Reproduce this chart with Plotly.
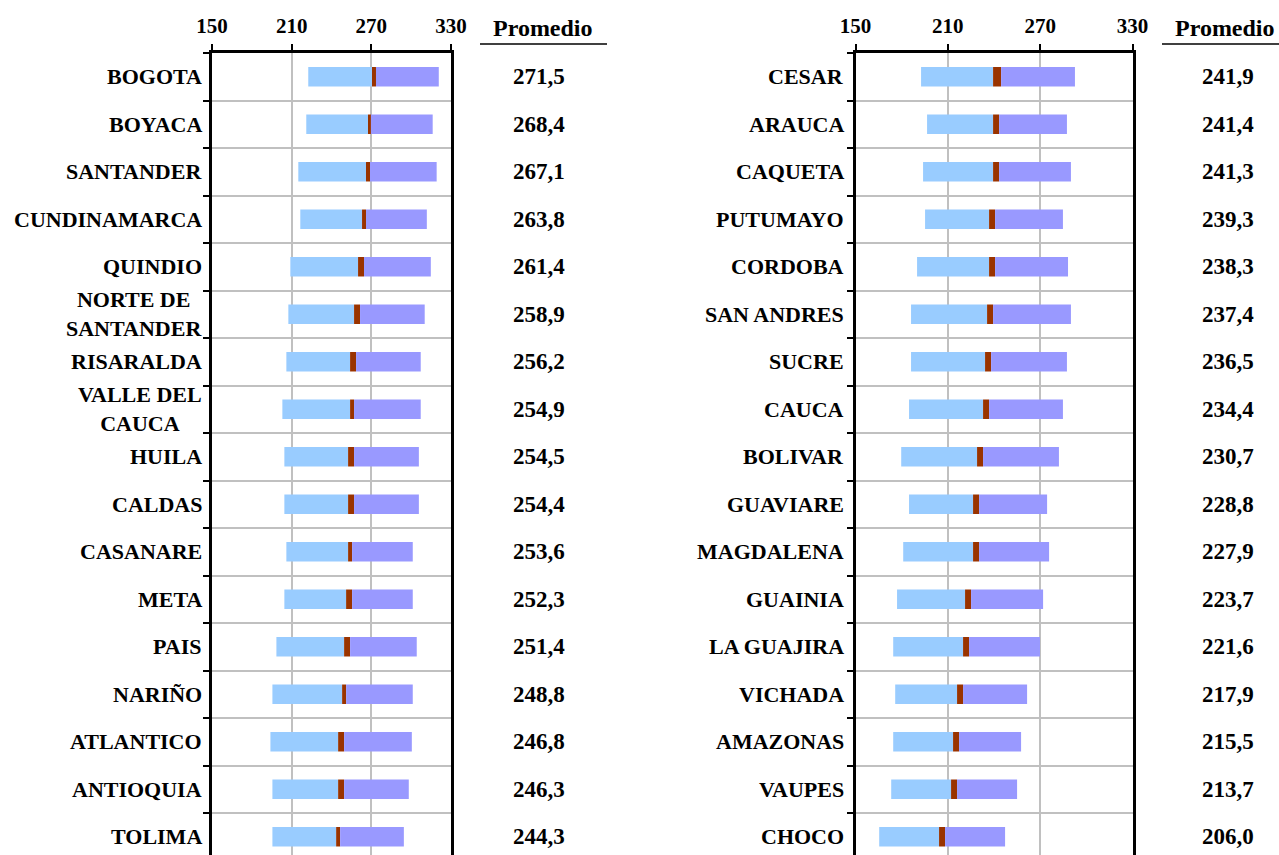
import plotly.graph_objects as go

# ---------------- data ----------------
left_names = ["BOGOTA", "BOYACA", "SANTANDER", "CUNDINAMARCA", "QUINDIO",
              "NORTE DE<br>SANTANDER", "RISARALDA", "VALLE DEL<br>CAUCA", "HUILA",
              "CALDAS", "CASANARE", "META", "PAIS", "NARIÑO", "ATLANTICO",
              "ANTIOQUIA", "TOLIMA"]
left_avg = ["271,5", "268,4", "267,1", "263,8", "261,4", "258,9", "256,2", "254,9",
            "254,5", "254,4", "253,6", "252,3", "251,4", "248,8", "246,8", "246,3", "244,3"]
left_low = [222.5, 221.0, 215.0, 216.5, 209.0, 207.5, 206.0, 203.0, 204.5, 204.5,
            206.0, 204.5, 198.5, 195.5, 194.0, 195.5, 195.5]
left_ci_lo = [270.5, 267.5, 266.0, 263.0, 260.0, 257.0, 254.0, 254.0, 252.5, 252.5,
              252.5, 251.0, 249.5, 248.0, 245.0, 245.0, 243.5]
left_ci_hi = [273.5, 269.7, 269.0, 266.0, 264.5, 261.5, 258.5, 257.0, 257.0, 257.0,
              255.5, 255.5, 254.0, 251.0, 249.5, 249.5, 246.5]
left_high = [320.8, 316.2, 319.2, 311.8, 314.8, 310.2, 307.2, 307.2, 305.8, 305.8,
             301.2, 301.2, 304.2, 301.2, 300.5, 298.2, 294.5]

right_names = ["CESAR", "ARAUCA", "CAQUETA", "PUTUMAYO", "CORDOBA", "SAN ANDRES",
               "SUCRE", "CAUCA", "BOLIVAR", "GUAVIARE", "MAGDALENA", "GUAINIA",
               "LA GUAJIRA", "VICHADA", "AMAZONAS", "VAUPES", "CHOCO"]
right_avg = ["241,9", "241,4", "241,3", "239,3", "238,3", "237,4", "236,5", "234,4",
             "230,7", "228,8", "227,9", "223,7", "221,6", "217,9", "215,5", "213,7", "206,0"]
right_low = [192.6, 196.5, 193.9, 195.2, 190.0, 186.1, 186.1, 184.8, 179.7, 184.8,
             181.0, 177.0, 174.5, 175.8, 174.5, 173.2, 165.4]
right_ci_lo = [239.4, 239.4, 239.4, 236.8, 236.8, 235.5, 234.2, 232.9, 229.0, 226.4,
               226.4, 221.2, 219.9, 216.0, 213.4, 212.1, 204.3]
right_ci_hi = [244.6, 243.3, 243.3, 240.7, 240.7, 239.4, 238.1, 236.8, 232.9, 230.3,
               230.3, 225.1, 223.8, 219.9, 217.3, 216.0, 208.2]
right_high = [292.6, 287.4, 290.0, 284.8, 288.1, 290.0, 287.4, 284.8, 282.2, 274.5,
              275.8, 271.9, 269.9, 261.5, 257.6, 255.0, 247.2]

x_ticks = [150, 210, 270, 330]
header = "Promedio"

# ---------------- styling ----------------
W, H = 1279, 855
FONT = "Liberation Serif"
C_LOW = "#99CCFF"
C_MEAN = "#993300"
C_HIGH = "#9999FF"
GRID = "#C0C0C0"
BAR_W = 0.41


def px(xs):
    return xs / W


def py(ys):
    return 1 - ys / H


fig = go.Figure()


def add_panel(low, ci_lo, ci_hi, high, xa, ya):
    idx = list(range(len(low)))
    seg = [
        (low, [b - a for a, b in zip(low, ci_lo)], C_LOW),
        (ci_lo, [b - a for a, b in zip(ci_lo, ci_hi)], C_MEAN),
        (ci_hi, [b - a for a, b in zip(ci_hi, high)], C_HIGH),
    ]
    for base, length, col in seg:
        fig.add_trace(go.Bar(
            y=idx, x=length, base=base, orientation="h", width=BAR_W,
            marker=dict(color=col, line=dict(width=0)),
            xaxis=xa, yaxis=ya, showlegend=False, hoverinfo="skip"))


add_panel(left_low, left_ci_lo, left_ci_hi, left_high, "x", "y")
add_panel(right_low, right_ci_lo, right_ci_hi, right_high, "x2", "y2")

n = len(left_names)
top_px = 53
row_px = 47.5
y_bottom = -0.5 + (H - top_px) / row_px
ydom = [0, py(top_px)]
bounds = [k - 0.5 for k in range(n + 1)]

xcommon = dict(range=[150, 330], tickmode="array", tickvals=x_ticks, side="top",
               showline=True, linecolor="black", linewidth=2.5, mirror=False,
               ticks="outside", ticklen=6, tickwidth=2, tickcolor="black",
               ticklabelstandoff=3,
               showgrid=True, gridcolor=GRID, gridwidth=1.5, zeroline=False,
               tickfont=dict(family=FONT, size=21, color="black", weight="bold"),
               automargin=False, fixedrange=True)
ycommon = dict(range=[y_bottom, -0.5], tickmode="array", tickvals=[], showticklabels=False,
               showline=True, linecolor="black", linewidth=2.5, mirror=True,
               showgrid=False, zeroline=False, ticks="",
               minor=dict(tickmode="array", tickvals=bounds, ticks="outside", ticklen=6,
                          tickwidth=2, tickcolor="black", showgrid=True,
                          gridcolor=GRID, gridwidth=1.5),
               automargin=False, fixedrange=True)

fig.update_layout(
    width=W, height=H,
    margin=dict(l=0, r=0, t=0, b=0),
    paper_bgcolor="white", plot_bgcolor="white",
    barmode="overlay",
    template="none",
    xaxis=dict(domain=[px(212), px(451)], anchor="y", **xcommon),
    yaxis=dict(domain=ydom, anchor="x", **ycommon),
    xaxis2=dict(domain=[px(855.5), px(1132.5)], anchor="y2", **xcommon),
    yaxis2=dict(domain=ydom, anchor="x2", **ycommon),
)

annots = []
lab_font = dict(family=FONT, size=22, color="black", weight="bold")
val_font = dict(family=FONT, size=23, color="black", weight="bold")
for names, avg, yref, xlab, xval in [
        (left_names, left_avg, "y", 204, 539),
        (right_names, right_avg, "y2", 846, 1228)]:
    for i, (nm, av) in enumerate(zip(names, avg)):
        annots.append(dict(xref="paper", yref=yref, x=px(xlab), y=i, text=nm,
                           xanchor="right", yanchor="middle", align="center",
                           showarrow=False, font=lab_font))
        annots.append(dict(xref="paper", yref=yref, x=px(xval), y=i, text=av,
                           xanchor="center", yanchor="middle", showarrow=False,
                           font=val_font))

for xc in (543, 1225):
    annots.append(dict(xref="paper", yref="paper", x=px(xc), y=py(28), text=header,
                       xanchor="center", yanchor="middle", showarrow=False,
                       font=dict(family=FONT, size=24, color="black", weight="bold")))
fig.update_layout(annotations=annots)

for x0, x1 in ((480, 607), (1162, 1279)):
    fig.add_shape(type="line", xref="paper", yref="paper", x0=px(x0), x1=px(x1),
                  y0=py(44), y1=py(44), line=dict(color="black", width=1.5))

fig.write_html(
    "out.html",
    config={"displayModeBar": False},
    post_script="document.body.style.margin='0';document.body.style.overflow='hidden';",
)
